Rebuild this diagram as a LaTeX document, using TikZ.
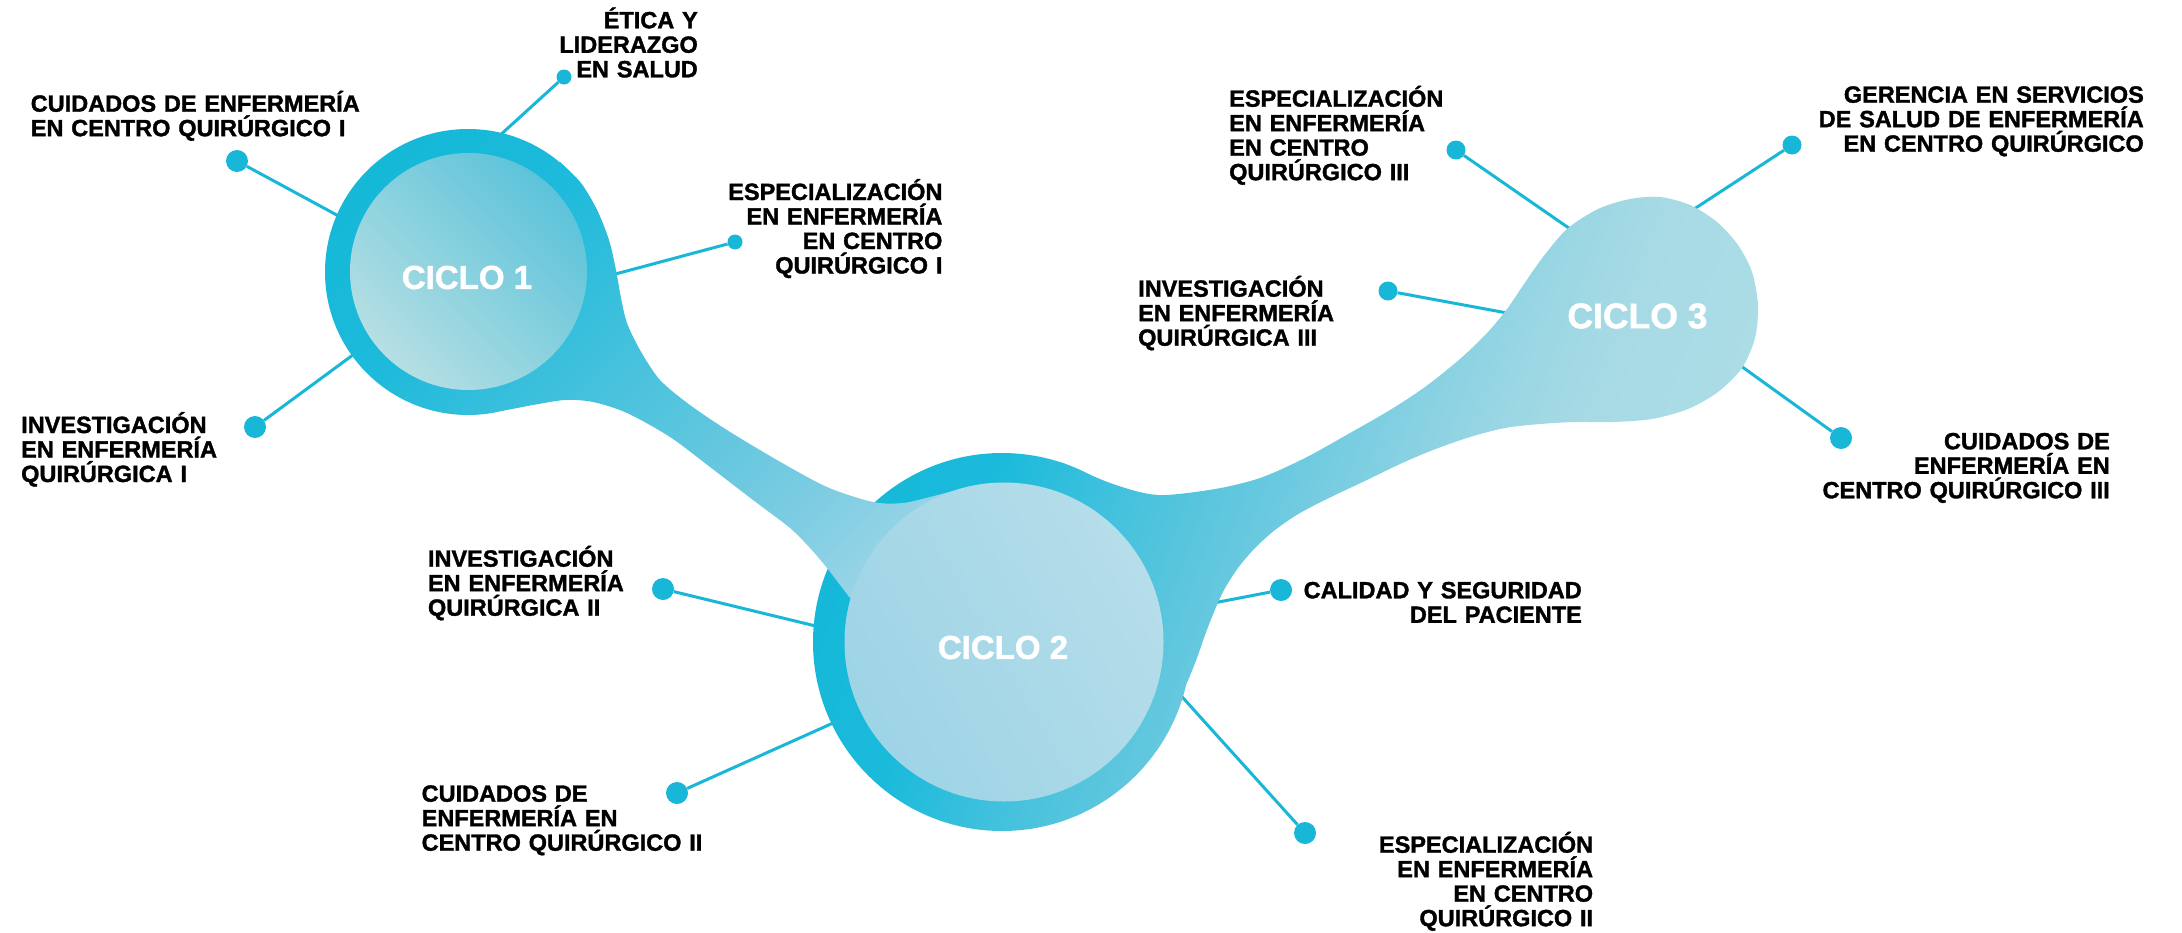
\documentclass[tikz,border=0pt]{standalone}
\usepackage{fontspec}
\setmainfont{Liberation Sans}
\newfontfamily\lblfont{Liberation Sans}[BoldFeatures={FakeBold=1.5}]
\definecolor{dotc}{HTML}{19B7D7}
\definecolor{sOneA}{HTML}{16B8D8}
\definecolor{sOneB}{HTML}{17B9D9}
\definecolor{sOneC}{HTML}{1EBADB}
\definecolor{sOneD}{HTML}{33BEDC}
\definecolor{sOneE}{HTML}{4EC3DD}
\definecolor{sOneF}{HTML}{63C7DF}
\definecolor{sOneG}{HTML}{7BCCE2}
\definecolor{sOneH}{HTML}{98D4E6}
\definecolor{sOneI}{HTML}{A0D6E7}
\definecolor{sTwoA}{HTML}{15B8D8}
\definecolor{sTwoB}{HTML}{1ABADB}
\definecolor{sTwoC}{HTML}{45C2DD}
\definecolor{sTwoD}{HTML}{58C5DD}
\definecolor{sTwoE}{HTML}{6ECAE0}
\definecolor{sTwoF}{HTML}{84D0E2}
\definecolor{sTwoG}{HTML}{92D4E3}
\definecolor{sTwoH}{HTML}{9DD7E4}
\definecolor{sTwoI}{HTML}{A6DAE5}
\definecolor{sTwoJ}{HTML}{ACDDE6}
\definecolor{inOneA}{HTML}{B6DFE3}
\definecolor{inOneB}{HTML}{5CC3DA}
\definecolor{inTwoA}{HTML}{9DD4E6}
\definecolor{inTwoB}{HTML}{B6DDEA}
\pgfdeclarehorizontalshading{gradSone}{100bp}{color(0bp)=(sOneA); color(25bp)=(sOneA); color(29.05bp)=(sOneB); color(35.81bp)=(sOneC); color(41.89bp)=(sOneD); color(49.32bp)=(sOneE); color(55.41bp)=(sOneF); color(62.16bp)=(sOneG); color(68.92bp)=(sOneH); color(75bp)=(sOneI); color(100bp)=(sOneI)}
\pgfdeclarehorizontalshading{gradStwo}{100bp}{color(0bp)=(sTwoA); color(25bp)=(sTwoA); color(33.54bp)=(sTwoB); color(41.46bp)=(sTwoC); color(45.73bp)=(sTwoD); color(50.91bp)=(sTwoE); color(55.85bp)=(sTwoF); color(59.21bp)=(sTwoG); color(62.38bp)=(sTwoH); color(66.16bp)=(sTwoI); color(75bp)=(sTwoJ); color(100bp)=(sTwoJ)}
\newcommand{\shadeSone}{\begin{scope}[transform canvas={rotate around={-45:(640,395)}}]\shade[shading=gradSone] (280,145) rectangle (1020,645);\end{scope}}
\newcommand{\shadeStwo}{\begin{scope}[transform canvas={rotate around={-20:(1290,540)}}]\shade[shading=gradStwo] (850,40) rectangle (1670,1040);\end{scope}}
\begin{document}
\begin{tikzpicture}[x=1pt,y=-1pt,
  lbl/.style={font=\fontsize{23.5}{24.5}\lblfont\bfseries, text width=420pt, inner sep=0pt, text=black},
  lblL/.style={lbl, align=left, anchor=base west},
  lblR/.style={lbl, align=right, anchor=base east},
  dotL/.style={circle, fill=dotc, inner sep=0pt, minimum size=22pt},
  dotM/.style={circle, fill=dotc, inner sep=0pt, minimum size=19pt},
  dotS/.style={circle, fill=dotc, inner sep=0pt, minimum size=15pt},
  conn/.style={draw=dotc, line width=3pt},
  ciclo/.style={text=white, inner sep=0pt, font=\fontsize{33}{33}\lblfont\bfseries}]
\useasboundingbox (0,0) rectangle (2182,932);

% labels
\node[lblR] (tEtica) at (698,28.3) {ÉTICA Y\\LIDERAZGO\\EN SALUD};
\node[lblL] (tCuidI) at (30.6,111.7) {CUIDADOS DE ENFERMERÍA\\EN CENTRO QUIRÚRGICO I};
\node[lblR] (tEspI) at (942.6,200) {ESPECIALIZACIÓN\\EN ENFERMERÍA\\EN CENTRO\\QUIRÚRGICO I};
\node[lblL] (tInvI) at (21,433) {INVESTIGACIÓN\\EN ENFERMERÍA\\QUIRÚRGICA I};
\node[lblL] (tInvII) at (427.8,566.7) {INVESTIGACIÓN\\EN ENFERMERÍA\\QUIRÚRGICA II};
\node[lblL] (tCuidII) at (421.5,801.7) {CUIDADOS DE\\ENFERMERÍA EN\\CENTRO QUIRÚRGICO II};
\node[lblR] (tCal) at (1582,598.3) {CALIDAD Y SEGURIDAD\\DEL PACIENTE};
\node[lblR] (tEspII) at (1593.3,852.7) {ESPECIALIZACIÓN\\EN ENFERMERÍA\\EN CENTRO\\QUIRÚRGICO II};
\node[lblL] (tEspIII) at (1229,106.7) {ESPECIALIZACIÓN\\EN ENFERMERÍA\\EN CENTRO\\QUIRÚRGICO III};
\node[lblR] (tGer) at (2144,102.7) {GERENCIA EN SERVICIOS\\DE SALUD DE ENFERMERÍA\\EN CENTRO QUIRÚRGICO};
\node[lblL] (tInvIII) at (1138,296.7) {INVESTIGACIÓN\\EN ENFERMERÍA\\QUIRÚRGICA III};
\node[lblR] (tCuidIII) at (2110,449.3) {CUIDADOS DE\\ENFERMERÍA EN\\CENTRO QUIRÚRGICO III};

% dots
\node[dotS] (dEtica) at (564,77) {};
\node[dotL] (dCuidI) at (237,161) {};
\node[dotS] (dEspI) at (735,242) {};
\node[dotL] (dInvI) at (255,427) {};
\node[dotL] (dInvII) at (663,589) {};
\node[dotL] (dCuidII) at (677,793) {};
\node[dotL] (dCal) at (1281,590) {};
\node[dotL] (dEspII) at (1305,833) {};
\node[dotM] (dEspIII) at (1456,150) {};
\node[dotM] (dGer) at (1792,145) {};
\node[dotM] (dInvIII) at (1388,291) {};
\node[dotL] (dCuidIII) at (1841,438) {};

% connector ends (hidden under the shapes)
\coordinate (eEtica) at (497,138);
\coordinate (eCuidI) at (346,220);
\coordinate (eEspI) at (608,276);
\coordinate (eInvI) at (361,349);
\coordinate (eInvII) at (824,628);
\coordinate (eCuidII) at (842,719);
\coordinate (eCal) at (1203,605);
\coordinate (eEspII) at (1175,689);
\coordinate (eEspIII) at (1576,233);
\coordinate (eGer) at (1688,213);
\coordinate (eInvIII) at (1518,315);
\coordinate (eCuidIII) at (1734,361);

% connectors
\draw[conn] (dEtica) -- (eEtica);
\draw[conn] (dCuidI) -- (eCuidI);
\draw[conn] (dEspI) -- (eEspI);
\draw[conn] (dInvI) -- (eInvI);
\draw[conn] (dInvII) -- (eInvII);
\draw[conn] (dCuidII) -- (eCuidII);
\draw[conn] (dCal) -- (eCal);
\draw[conn] (dEspII) -- (eEspII);
\draw[conn] (dEspIII) -- (eEspIII);
\draw[conn] (dGer) -- (eGer);
\draw[conn] (dInvIII) -- (eInvIII);
\draw[conn] (dCuidIII) -- (eCuidIII);

% shape 2: ciclo 2 ring, right neck, ciclo 3
\begin{scope}
  \clip (1002,642) circle[radius=189];
  \shadeStwo
\end{scope}
\begin{scope}
  \clip plot[smooth] coordinates {(1063,463) (1113,484) (1158,495) (1215,489) (1260,478) (1305,458) (1350,433) (1390,410) (1425,387) (1460,359) (1487,333) (1507,309) (1524,284) (1543,257) (1567,229) (1598,209) (1630,199) (1660,197) (1690,205) (1717,222) (1738,245) (1752,272) (1758,305) (1755,338) (1742,368) (1718,392) (1688,409) (1652,419) (1613,422) (1575,422) (1540,424) (1505,428) (1470,437) (1433,450) (1400,464) (1367,480) (1333,496) (1300,513) (1275,530) (1255,548) (1238,568) (1224,590) (1214,612) (1205,635) (1197,658) (1189,678) (1180,697)} -- (1050,600) -- cycle;
  \shadeStwo
\end{scope}

% shape 1: ciclo 1 ring and left neck
\begin{scope}
  \clip (468,272) circle[radius=143];
  \shadeSone
\end{scope}
\begin{scope}
  \clip plot[smooth] coordinates {(560,162) (581,183) (597,210) (609,240) (616,270) (621,298) (627,323) (640,350) (660,380) (690,405) (727,430) (777,460) (827,487) (873,502) (903,503) (930,497) (953,491)} -- (965,560) -- (850,598) -- plot[smooth] coordinates {(850,598) (827,568) (810,548) (790,528) (753,500) (710,467) (670,437) (627,413) (593,402) (565,400) (533,405) (500,411) (460,415)} -- (468,272) -- cycle;
  \shadeSone
\end{scope}

% inner circles
\begin{scope}
  \clip (468.5,271.5) circle[radius=118.5];
  \begin{scope}[transform canvas={rotate around={45:(468.5,271.5)}}]
    \shade[left color=inOneA, right color=inOneB] (350,153) rectangle (587,390);
  \end{scope}
\end{scope}
\begin{scope}
  \clip (1004,642) circle[radius=159.5];
  \begin{scope}[transform canvas={rotate around={30:(1004,642)}}]
    \shade[left color=inTwoA, right color=inTwoB] (844,482) rectangle (1164,802);
  \end{scope}
\end{scope}

% cycle titles
\node[ciclo] (c1) at (467,277.5) {CICLO 1};
\node[ciclo] (c2) at (1003,647.5) {CICLO 2};
\node[ciclo, font=\fontsize{35.5}{35.5}\lblfont\bfseries] (c3) at (1637.5,316) {CICLO 3};
\end{tikzpicture}
\end{document}
